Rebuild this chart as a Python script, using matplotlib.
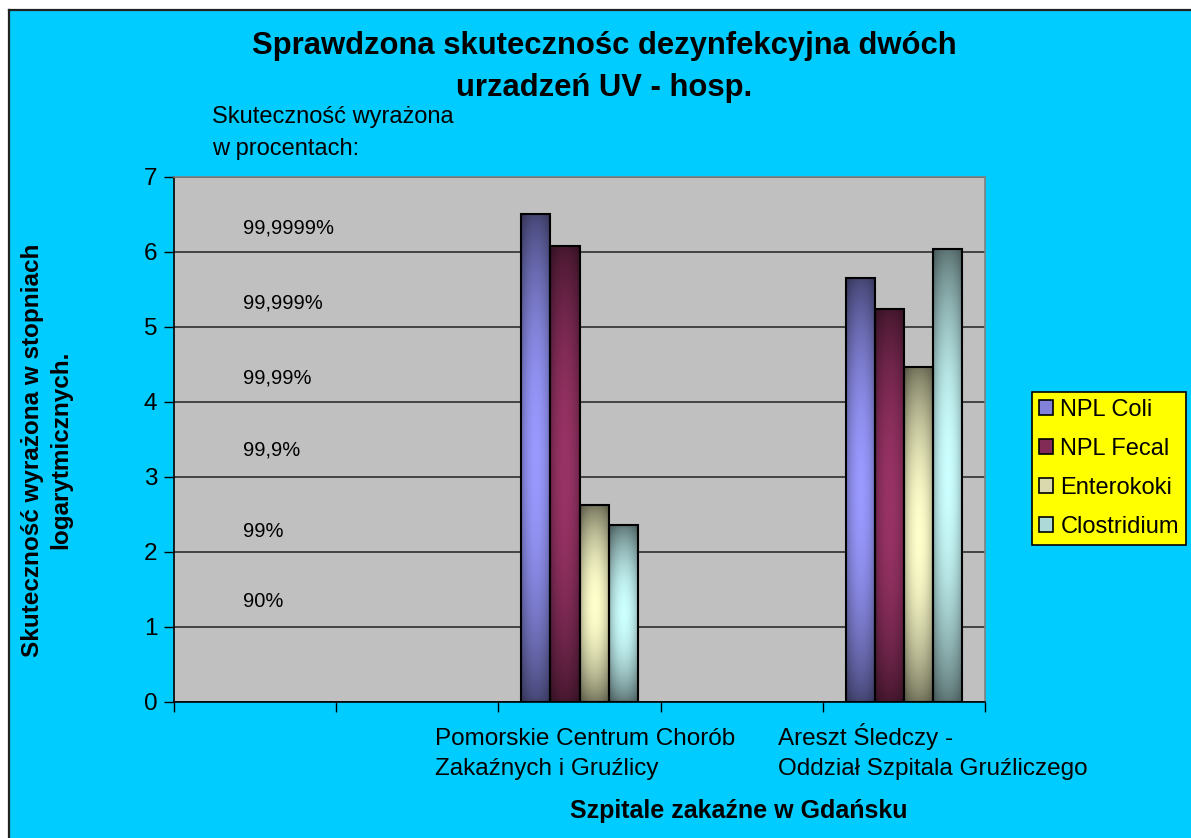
import numpy as np
import matplotlib
matplotlib.use("Agg")
import matplotlib.pyplot as plt
from matplotlib.patches import Rectangle, Patch
from matplotlib.lines import Line2D
from matplotlib import transforms

plt.rcParams['font.family'] = ['Liberation Sans', 'DejaVu Sans']

# dane
categories = ['', '', 'Pomorskie Centrum Chorób\nZakaźnych i Gruźlicy', '',
              'Areszt Śledczy -\nOddział Szpitala Gruźliczego']
series = ['NPL Coli', 'NPL Fecal', 'Enterokoki', 'Clostridium']
values = {
    'NPL Coli':    [np.nan, np.nan, 6.50, np.nan, 5.65],
    'NPL Fecal':   [np.nan, np.nan, 6.08, np.nan, 5.23],
    'Enterokoki':  [np.nan, np.nan, 2.62, np.nan, 4.46],
    'Clostridium': [np.nan, np.nan, 2.35, np.nan, 6.04],
}
percent_labels = ['90%', '99%', '99,9%', '99,99%', '99,999%', '99,9999%']
percent_y = [1.34, 2.27, 3.35, 4.32, 5.32, 6.31]

colors = {'NPL Coli': '#9999ff', 'NPL Fecal': '#993366',
          'Enterokoki': '#ffffcc', 'Clostridium': '#ccffff'}

W, H = 1191, 838
fig = plt.figure(figsize=(W / 100, H / 100), dpi=100)
fig.patch.set_facecolor('white')

# tlo wykresu (cyjan, ramka tylko gora i lewo)
bg = Rectangle((9 / W, 0), 1.0, 1 - 10 / H, transform=fig.transFigure,
               facecolor='#00ccff', edgecolor='none', zorder=0)
fig.add_artist(bg)
fig.add_artist(Line2D([9 / W, 1], [1 - 10 / H, 1 - 10 / H], transform=fig.transFigure,
                      color='#222222', linewidth=1.6))
fig.add_artist(Line2D([9 / W, 9 / W], [0, 1 - 10 / H], transform=fig.transFigure,
                      color='#222222', linewidth=1.6))

ax = fig.add_axes([174 / W, 1 - 701.7 / H, (985 - 174) / W, (701.7 - 176.7) / H])
ax.set_facecolor('#c0c0c0')
ax.set_axisbelow(True)

x = np.arange(len(categories))
bw = 0.179


def bar_image(rgb, nw=64, nh=256):
    t = np.linspace(0, 1, nh)[:, None]
    s = np.linspace(0, 1, nw)[None, :]
    vert = 0.45 + 0.55 * np.sin(np.pi * t) ** 0.8
    horiz = 0.68 + 0.32 * np.sin(np.pi * s) ** 0.7
    f = vert * horiz
    return np.clip(np.array(rgb)[None, None, :] * f[..., None], 0, 1)


for i, name in enumerate(series):
    off = (i - 1.5) * bw
    bars = ax.bar(x + off, np.nan_to_num(values[name]), width=bw,
                  facecolor='none', edgecolor='black', linewidth=1.5, zorder=4)
    rgb = matplotlib.colors.to_rgb(colors[name])
    img = bar_image(rgb)
    for p, v in zip(bars.patches, values[name]):
        if np.isnan(v):
            p.set_visible(False)
            continue
        im = ax.imshow(img, extent=[p.get_x(), p.get_x() + p.get_width(), 0, p.get_height()],
                       aspect='auto', origin='upper', zorder=3, interpolation='bilinear')
        im.set_clip_path(p)

ax.set_xlim(-0.5, len(categories) - 0.5)
ax.set_ylim(0, 7)
ax.set_yticks(range(0, 8))
ax.tick_params(axis='y', labelsize=17.5, length=7, width=1, direction='out', pad=5)
ax.set_xticks(np.arange(-0.5, len(categories)), labels=[''] * (len(categories) + 1))
ax.tick_params(axis='x', length=7, width=1, direction='out')
ax.yaxis.grid(True, color='#222222', linewidth=1.1)

for side in ['top', 'right']:
    ax.spines[side].set_color('#808080')
    ax.spines[side].set_linewidth(1.2)
for side in ['left', 'bottom']:
    ax.spines[side].set_color('black')
    ax.spines[side].set_linewidth(1.2)

# etykiety kategorii (lewa krawedz i gora w pikselach)
label_pos = {2: (435, 728), 4: (778, 723)}
for i, lab in enumerate(categories):
    if lab:
        lx, ly = label_pos[i]
        fig.text(lx / W, 1 - ly / H, lab, ha='left', va='top',
                 fontsize=17.5, linespacing=1.45)

# procenty
tr = transforms.blended_transform_factory(fig.transFigure, ax.transData)
for lab, yv in zip(percent_labels, percent_y):
    ax.text(243 / W, yv, lab, transform=tr, fontsize=14.5, va='center', ha='left')

fig.text(604 / W, 1 - 67 / H, 'Sprawdzona skutecznośc dezynfekcyjna dwóch\nurzadzeń UV - hosp.',
         ha='center', va='center', fontsize=22.3, fontweight='bold', linespacing=1.5)
fig.text(212 / W, 1 - 133 / H, 'Skuteczność wyrażona\nw procentach:', ha='left', va='center',
         fontsize=17, linespacing=1.6)
fig.text(47 / W, 1 - 450 / H, 'Skuteczność wyrażona w stopniach\nlogarytmicznych.',
         ha='center', va='center', rotation=90, fontsize=17.5, fontweight='bold',
         linespacing=1.3)
fig.text(739 / W, 1 - 811 / H, 'Szpitale zakaźne w Gdańsku', ha='center', va='center',
         fontsize=18, fontweight='bold')

handles = [Patch(facecolor=tuple(0.85 * c for c in matplotlib.colors.to_rgb(colors[n])),
                 edgecolor='black', linewidth=1.2) for n in series]
leg = fig.legend(handles, series, loc='upper left', bbox_to_anchor=(1032 / W, 1 - 392 / H),
                 bbox_transform=fig.transFigure, fontsize=17, frameon=True, fancybox=False,
                 facecolor='#ffff00', edgecolor='black', framealpha=1,
                 handlelength=0.6, handleheight=0.6, handletextpad=0.3,
                 labelspacing=0.72, borderpad=0.3, borderaxespad=0)
leg.get_frame().set_linewidth(1.2)

fig.savefig('out.png', dpi=100, facecolor=fig.get_facecolor())
